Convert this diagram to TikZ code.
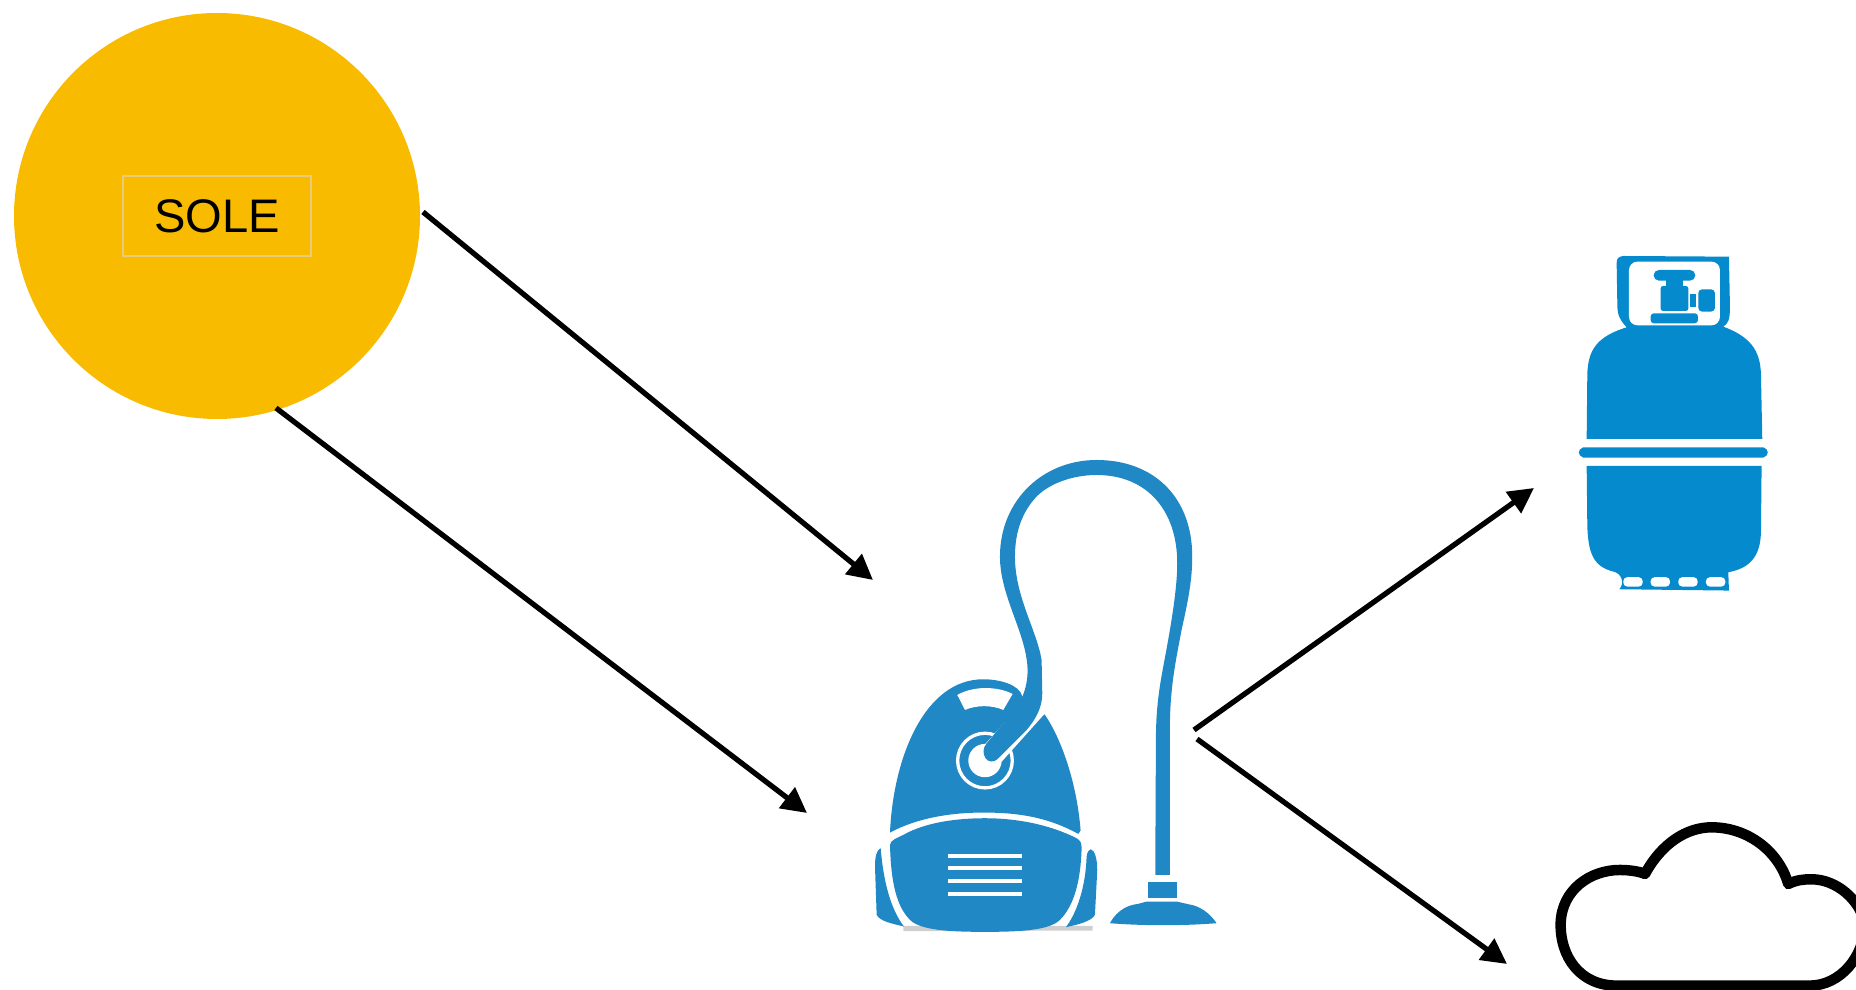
\documentclass[tikz,border=0pt]{standalone}
\usepackage{fontspec}
\setmainfont{Liberation Sans}
\usetikzlibrary{arrows.meta}
\definecolor{sunYellow}{HTML}{F8BB00}
\definecolor{boxEdge}{HTML}{E9CB7A}
\definecolor{vacuumBlue}{HTML}{2088C4}
\definecolor{bottleBlue}{HTML}{058ACD}
\definecolor{shadowGrey}{HTML}{CFCFCF}
\tikzset{
    flow/.style={-{Triangle[length=7.2pt,width=7.2pt]}, line width=1.5pt},
    sunDisc/.style={circle, fill=sunYellow, minimum size=4.06cm, inner sep=0pt},
    labelBox/.style={draw=boxEdge, line width=0.4pt, minimum width=1.88cm, minimum height=0.8cm, inner sep=0pt, font=\fontsize{13.4}{16}\selectfont},
    zoomed/.style={x=0.03333mm, y=-0.03333mm}
}

\begin{document}
\begin{tikzpicture}[x=0.1mm, y=-0.1mm, >=Latex]
    \useasboundingbox (0,0) rectangle (1856,990);

    % ---------- sun ----------
    \node[sunDisc] (sun) at (217,216) {};
    \node[labelBox] (soleBox) at (217,216) {\raisebox{-0.7pt}{SOLE}};

    % ---------- vacuum cleaner ----------
    \begin{scope}[shift={(860,440)}, zoomed]
        \fill[shadowGrey] (130,1458) -- (698,1458) -- (698,1472) -- (130,1474) -- cycle;
        % upper body
        \fill[vacuumBlue] (90,1178) .. controls (100,950) and (195,718) .. (370,718)
            .. controls (420,718) and (480,735) .. (487,770) -- (555,825)
            .. controls (600,890) and (650,1020) .. (662,1172) -- (655,1182)
            .. controls (560,1130) and (470,1118) .. (370,1118)
            .. controls (270,1118) and (170,1135) .. (90,1178) -- cycle;
        % lower body
        \fill[vacuumBlue] (90,1215) .. controls (92,1200) and (110,1195) .. (130,1185)
            .. controls (200,1145) and (300,1135) .. (375,1135)
            .. controls (460,1135) and (560,1150) .. (650,1195)
            .. controls (662,1202) and (665,1210) .. (665,1225)
            .. controls (662,1330) and (640,1400) .. (600,1440)
            .. controls (570,1470) and (490,1476) .. (375,1476)
            .. controls (260,1476) and (180,1470) .. (150,1440)
            .. controls (110,1400) and (93,1330) .. (90,1215) -- cycle;
        % wheels
        \fill[vacuumBlue] (62,1225) .. controls (50,1230) and (45,1250) .. (45,1280) -- (50,1425)
            .. controls (60,1445) and (100,1452) .. (132,1460)
            .. controls (90,1405) and (70,1320) .. (62,1225) -- cycle;
        \fill[vacuumBlue] (692,1228) .. controls (705,1230) and (712,1260) .. (712,1290) -- (705,1425)
            .. controls (695,1445) and (650,1455) .. (618,1462)
            .. controls (660,1405) and (678,1320) .. (680,1250)
            .. controls (682,1238) and (685,1230) .. (692,1228) -- cycle;
        % vents
        \foreach \y in {1247,1285,1324,1362} {
            \draw[white, line width=0.4mm] (265,\y) -- (487,\y);
        }
        % dial
        \fill[white] (292,765) .. controls (340,738) and (410,738) .. (458,762) -- (430,810)
            .. controls (395,795) and (350,795) .. (315,810) -- cycle;
        % hub
        \draw[white, line width=0.33mm] (375,962) circle[radius=82];
        \fill[white] (375,962) circle[radius=50];
        % hose
        \draw[white, line width=2.4mm, line cap=round] (395,945) -- (525,800);
        \fill[vacuumBlue] (930,1305) -- (930,860)
            .. controls (930,740) and (950,650) .. (965,570)
            .. controls (985,480) and (997,420) .. (997,350)
            .. controls (997,170) and (880,60) .. (710,60)
            .. controls (550,60) and (420,180) .. (420,350)
            .. controls (420,470) and (500,580) .. (503,690)
            .. controls (503,750) and (480,790) .. (460,815) -- (380,910)
            .. controls (355,940) and (385,985) .. (415,955) -- (500,870)
            .. controls (530,835) and (547,800) .. (547,760) -- (545,660)
            .. controls (530,570) and (465,470) .. (465,350)
            .. controls (465,270) and (490,215) .. (525,175)
            .. controls (565,130) and (640,105) .. (710,105)
            .. controls (860,105) and (952,210) .. (952,370)
            .. controls (952,460) and (925,600) .. (910,680)
            .. controls (895,760) and (888,820) .. (888,900) -- (886,1305) -- cycle;
        % nozzle
        \fill[vacuumBlue] (863,1327) rectangle (950,1375);
        \fill[vacuumBlue] (750,1450) .. controls (775,1405) and (810,1395) .. (835,1392)
            -- (860,1385) -- (950,1385) -- (985,1393)
            .. controls (1020,1398) and (1050,1420) .. (1070,1450)
            .. controls (970,1458) and (850,1458) .. (750,1450) -- cycle;
    \end{scope}

    % ---------- gas bottle ----------
    \begin{scope}[shift={(1560,240)}, zoomed]
        \fill[bottleBlue] (190,48) -- (507,50) -- (510,200)
            .. controls (510,240) and (505,250) .. (490,260)
            .. controls (570,290) and (600,330) .. (603,400) -- (607,597) -- (80,597) -- (82,400)
            .. controls (85,330) and (110,290) .. (200,262)
            .. controls (175,235) and (172,220) .. (172,190) -- (170,70)
            .. controls (170,55) and (175,50) .. (190,48) -- cycle;
        \fill[white, rounded corners=2.4pt] (207,65) rectangle (480,256);
        \fill[bottleBlue, rounded corners=1.5pt] (281,90) rectangle (406,122);
        \fill[bottleBlue] (318,120) rectangle (370,140);
        \fill[bottleBlue, rounded corners=0.7pt] (302,138) rectangle (385,213);
        \fill[bottleBlue] (390,163) rectangle (407,200);
        \fill[bottleBlue, rounded corners=1.1pt] (415,148) rectangle (465,215);
        \fill[bottleBlue, rounded corners=0.9pt] (272,220) rectangle (414,250);
        % band
        \fill[bottleBlue] (70,622) -- (610,622) .. controls (628,628) and (628,647) .. (610,653)
            -- (70,653) .. controls (52,647) and (52,628) .. (70,622) -- cycle;
        % lower part
        \fill[bottleBlue] (80,678) -- (605,678) -- (603,880)
            .. controls (600,950) and (570,985) .. (505,997) -- (507,1052) -- (178,1048)
            .. controls (195,1030) and (185,1000) .. (160,995)
            .. controls (100,980) and (85,940) .. (82,860) -- cycle;
        \foreach \x in {190,272,355,438} {
            \fill[white, rounded corners=1.1pt] (\x,1012) rectangle ++(58,28);
        }
    \end{scope}

    % ---------- cloud ----------
    \begin{scope}[shift={(1540,800)}, zoomed]
        \draw[line width=1.05mm, line join=round] (230,557)
            .. controls (120,557) and (60,470) .. (62,370)
            .. controls (65,270) and (150,210) .. (240,210)
            .. controls (270,210) and (300,215) .. (315,222)
            .. controls (365,130) and (440,82) .. (515,82)
            .. controls (620,82) and (715,150) .. (745,252)
            .. controls (770,240) and (790,238) .. (815,238)
            .. controls (890,238) and (960,300) .. (975,370)
            .. controls (975,470) and (900,557) .. (810,557) -- cycle;
    \end{scope}

    % ---------- flows ----------
    \coordinate (sunOutA) at (423,212);
    \coordinate (sunOutB) at (276,408);
    \coordinate (vacuumInA) at (873,580);
    \coordinate (vacuumInB) at (807,813);
    \coordinate (vacuumOutA) at (1194,730);
    \coordinate (vacuumOutB) at (1197,739);
    \coordinate (bottleIn) at (1534,488);
    \coordinate (cloudIn) at (1507,964);
    \draw[flow] (sunOutA) -- (vacuumInA);
    \draw[flow] (sunOutB) -- (vacuumInB);
    \draw[flow] (vacuumOutA) -- (bottleIn);
    \draw[flow] (vacuumOutB) -- (cloudIn);
\end{tikzpicture}
\end{document}
